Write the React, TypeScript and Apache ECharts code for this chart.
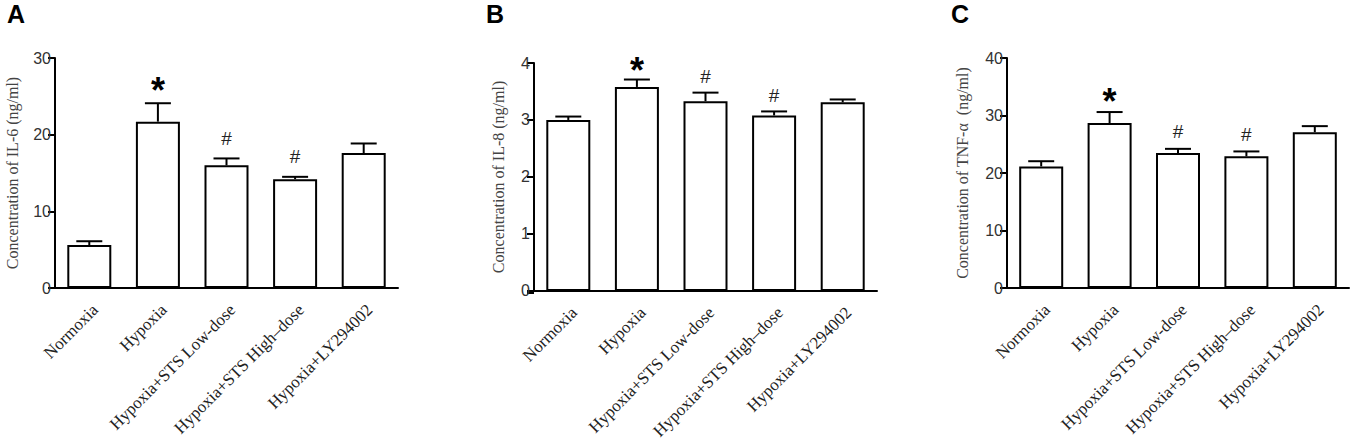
import React, { useEffect, useRef } from "react";
import * as echarts from "echarts";

const categories = [
  "Normoxia",
  "Hypoxia",
  "Hypoxia+STS Low-dose",
  "Hypoxia+STS High–dose",
  "Hypoxia+LY294002",
];
const il6 = [5.6, 21.7, 16.0, 14.2, 17.6];
const il6Err = [0.5, 2.4, 0.9, 0.3, 1.25];
const il8 = [3.0, 3.58, 3.33, 3.08, 3.31];
const il8Err = [0.06, 0.13, 0.15, 0.07, 0.05];
const tnf = [21.15, 28.7, 23.5, 22.9, 27.1];
const tnfErr = [0.9, 1.9, 0.7, 0.85, 1.05];
const marks = ["", "*", "#", "#", ""];

const panelLetters = ["A", "B", "C"];
const yTitles = [
  "Concentration of IL-6 (ng/ml)",
  "Concentration of IL-8 (ng/ml)",
  "Concentration of TNF-α  (ng/ml)",
];
const yMax = [30, 4, 40];
const yInterval = [10, 1, 10];

const SERIF = "'Liberation Serif', 'Times New Roman', serif";
const SANS = "'Liberation Sans', Arial, sans-serif";

export default function App() {
  const ref = useRef<HTMLDivElement>(null);
  useEffect(() => {
    document.body.style.margin = "0";
    if (!ref.current) return;
    const chart = echarts.init(ref.current, null, { renderer: "svg" });
    const grids = [
      { left: 55, top: 58, width: 343, height: 230 },
      { left: 534, top: 63, width: 343, height: 230 },
      { left: 1007, top: 58, width: 342, height: 230 },
    ];
    const nameGaps = [35, 28, 37];
    const letterX = [7, 486, 951];
    const starOff = [-13, -9, -11];
    const hashOff = [-20, -16, -17];
    const values = [il6, il8, tnf];
    const errs = [il6Err, il8Err, tnfErr];

    const series: any[] = [];
    values.forEach((vals, gi) => {
      series.push({
        type: "bar",
        xAxisIndex: gi,
        yAxisIndex: gi,
        data: vals,
        barWidth: 44,
        itemStyle: { color: "#fff", borderColor: "#000", borderWidth: 2 },
        z: 2,
      });
      series.push({
        type: "custom",
        xAxisIndex: gi,
        yAxisIndex: gi,
        z: 3,
        data: vals.map((v, i) => [i, v, errs[gi][i]]),
        renderItem: (params: any, api: any) => {
          const i = api.value(0);
          const v = api.value(1);
          const e = api.value(2);
          const base = api.coord([i, v]);
          const top = api.coord([i, v + e]);
          const x = base[0];
          const children: any[] = [
            {
              type: "line",
              shape: { x1: x, y1: base[1], x2: x, y2: top[1] },
              style: { stroke: "#000", lineWidth: 2 },
            },
            {
              type: "line",
              shape: { x1: x - 13, y1: top[1], x2: x + 13, y2: top[1] },
              style: { stroke: "#000", lineWidth: 2 },
            },
          ];
          const m = marks[params.dataIndex];
          if (m === "*") {
            children.push({
              type: "text",
              style: {
                text: "*",
                x: x,
                y: top[1] + starOff[gi],
                align: "center",
                verticalAlign: "middle",
                font: `bold 36px ${SANS}`,
                fill: "#000",
              },
            });
          } else if (m === "#") {
            children.push({
              type: "text",
              style: {
                text: "#",
                x: x,
                y: top[1] + hashOff[gi],
                align: "center",
                verticalAlign: "middle",
                font: `19px ${SANS}`,
                fill: "#222",
              },
            });
          }
          return { type: "group", children };
        },
      });
    });

    const graphic: any[] = [];
    grids.forEach((g, gi) => {
      graphic.push({
        type: "text",
        left: letterX[gi],
        top: 1,
        style: { text: panelLetters[gi], font: `bold 25px ${SANS}`, fill: "#000" },
      });
      graphic.push({
        type: "line",
        shape: { x1: g.left - 7, y1: g.top + g.height, x2: g.left, y2: g.top + g.height },
        style: { stroke: "#000", lineWidth: 2 },
      });
    });

    chart.setOption({
      animation: false,
      backgroundColor: "#fff",
      grid: grids,
      graphic,
      xAxis: grids.map((_, gi) => ({
        type: "category",
        gridIndex: gi,
        data: categories,
        axisLine: { lineStyle: { color: "#000", width: 2 } },
        axisTick: { alignWithLabel: true, length: 6, lineStyle: { color: "#000", width: 2 } },
        axisLabel: {
          rotate: 45,
          interval: 0,
          margin: 13,
          verticalAlign: "top",
          fontSize: 17,
          fontFamily: SERIF,
          color: "#222",
        },
      })),
      yAxis: grids.map((_, gi) => ({
        type: "value",
        gridIndex: gi,
        min: 0,
        max: yMax[gi],
        interval: yInterval[gi],
        name: yTitles[gi],
        nameLocation: "middle",
        nameGap: nameGaps[gi],
        nameTextStyle: { fontSize: 16, fontFamily: SERIF, color: "#444" },
        splitLine: { show: false },
        axisLine: { show: true, lineStyle: { color: "#000", width: 2 } },
        axisTick: { show: true, length: 7, lineStyle: { color: "#000", width: 2 } },
        axisLabel: { fontSize: 16, fontFamily: SANS, color: "#333", margin: 4 },
      })),
      series,
    });
    return () => chart.dispose();
  }, []);
  return <div ref={ref} style={{ width: 1350, height: 442 }} />;
}
